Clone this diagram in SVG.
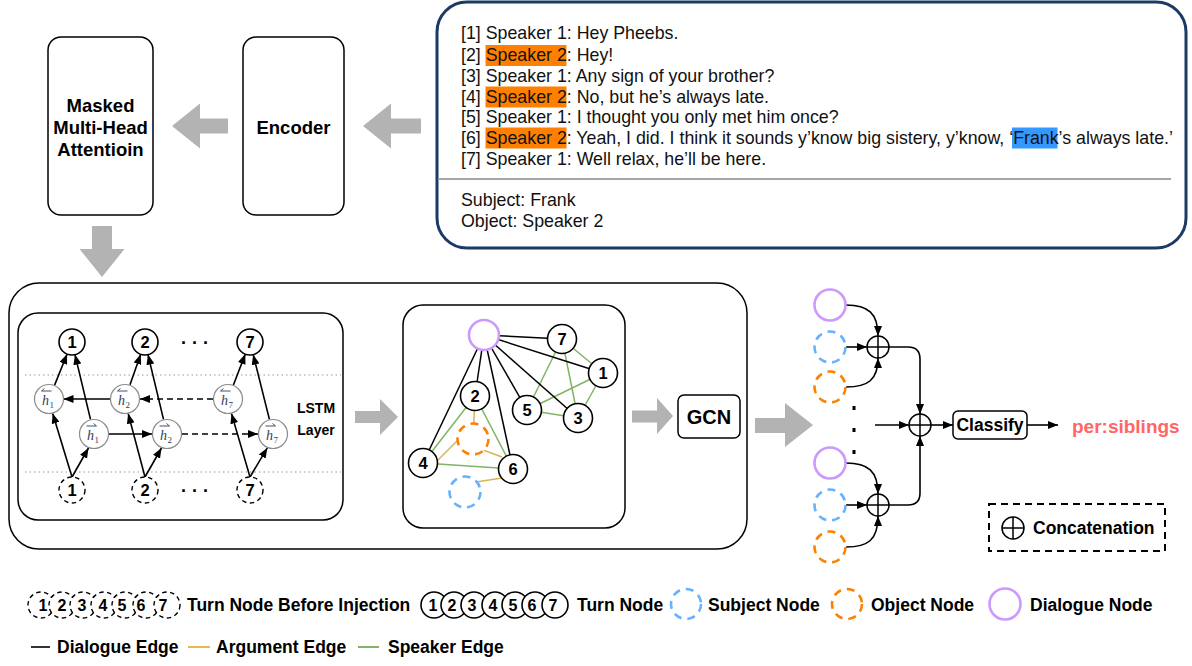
<svg xmlns="http://www.w3.org/2000/svg" width="1192" height="666" viewBox="0 0 1192 666">
<defs>
<style>
text{font-family:"Liberation Sans",Arial,sans-serif;fill:#000;}
.box{fill:#fff;stroke:#000;stroke-width:1.5;}
.garrow{fill:#b3b3b3;}
.bt{font-weight:bold;font-size:18.5px;text-anchor:middle;}
.dlg{font-size:17.8px;fill:#111;}
.tn{fill:#fff;stroke:#000;stroke-width:1.6;}
.tnd{fill:#fff;stroke:#000;stroke-width:1.4;stroke-dasharray:4.5 3.5;}
.num{font-weight:bold;font-size:16.5px;text-anchor:middle;}
.lnum{font-weight:bold;font-size:16px;text-anchor:middle;}
.hc{fill:#fff;stroke:#8c8c8c;stroke-width:1.2;}
.hv{font-family:"Liberation Serif",serif;font-style:italic;font-size:14px;fill:#2f3d5c;}
.hs{font-family:"Liberation Serif",serif;font-size:9px;fill:#2f3d5c;}
.ha{stroke:#2f3d5c;stroke-width:0.9;fill:none;}
.ar{stroke:#000;stroke-width:1.6;fill:none;marker-end:url(#ah);}
.ard{stroke:#000;stroke-width:1.6;fill:none;stroke-dasharray:6 4;marker-end:url(#ah);}
.de{stroke:#000;stroke-width:1.5;}
.se{stroke:#82b366;stroke-width:1.5;}
.ae{stroke:#d6b656;stroke-width:1.5;}
.dn{fill:#fff;stroke:#cc99ff;stroke-width:2.6;}
.sn{fill:#fff;stroke:#66b2ff;stroke-width:2.6;stroke-dasharray:8 6;}
.on{fill:#fff;stroke:#ff8000;stroke-width:2.6;stroke-dasharray:8 6;}
.lg{font-weight:bold;font-size:17.5px;}
.dots{stroke:#999;stroke-width:1.2;stroke-dasharray:1.5 3;}
.cc{fill:#fff;stroke:#000;stroke-width:1.5;}
</style>
<marker id="ah" markerWidth="10" markerHeight="8" refX="10" refY="4" orient="auto" markerUnits="userSpaceOnUse">
<path d="M0,0 L10,4 L0,8 Z" fill="#000"/>
</marker>
</defs>

<rect width="1192" height="666" fill="#fff"/>

<!-- top nodes -->
<g id="n-masked">
<rect class="box" x="48" y="37" width="105" height="178" rx="13"/>
<text class="bt" x="100.5" y="112">Masked</text>
<text class="bt" x="100.5" y="134">Multi-Head</text>
<text class="bt" x="100.5" y="156">Attentioin</text>
</g>
<g id="n-encoder">
<rect class="box" x="243" y="37" width="101" height="178" rx="13"/>
<text class="bt" x="293.5" y="133.5">Encoder</text>
</g>
<g id="n-dialogue">
<rect x="437" y="2" width="749" height="246" rx="30" fill="#fff" stroke="#1b3a66" stroke-width="3"/>
<rect x="485.5" y="45" width="81" height="21" fill="#ff8000"/>
<rect x="485.5" y="86.5" width="81" height="21" fill="#ff8000"/>
<rect x="485.5" y="127.5" width="81" height="21" fill="#ff8000"/>
<rect x="1012" y="127.5" width="45.5" height="21" fill="#3399ff"/>
<text class="dlg" x="461" y="39">[1] Speaker 1: Hey Pheebs.</text>
<text class="dlg" x="461" y="61">[2] Speaker 2: Hey!</text>
<text class="dlg" x="461" y="82">[3] Speaker 1: Any sign of your brother?</text>
<text class="dlg" x="461" y="103">[4] Speaker 2: No, but he’s always late.</text>
<text class="dlg" x="461" y="123">[5] Speaker 1: I thought you only met him once?</text>
<text class="dlg" x="461" y="144">[6] Speaker 2: Yeah, I did. I think it sounds y’know big sistery, y’know, ‘Frank’s always late.’</text>
<text class="dlg" x="461" y="165">[7] Speaker 1: Well relax, he’ll be here.</text>
<line x1="438" y1="179" x2="1171" y2="179" stroke="#a6a6a6" stroke-width="1.8"/>
<text class="dlg" x="461" y="206">Subject: Frank</text>
<text class="dlg" x="461" y="227">Object: Speaker 2</text>
</g>

<!-- containers -->
<g id="n-container">
<rect class="box" x="9" y="283" width="738" height="266" rx="30"/>
</g>
<g id="n-lstm">
<rect class="box" x="18" y="313" width="325" height="207" rx="20"/>
<line class="dots" x1="25" y1="375" x2="341" y2="375"/>
<line class="dots" x1="25" y1="472" x2="341" y2="472"/>
<text x="316" y="413" font-weight="bold" font-size="14" text-anchor="middle">LSTM</text>
<text x="316" y="435" font-weight="bold" font-size="14" text-anchor="middle">Layer</text>
</g>
<g id="n-graph">
<rect class="box" x="403" y="305" width="222" height="223" rx="20"/>
</g>

<!-- connectors -->
<g id="connectors">
<path class="garrow" d="M228,118.5 L200,118.5 L200,103.5 L172,126 L200,148.5 L200,133.5 L228,133.5 Z"/>
<path class="garrow" d="M421,118.5 L391,118.5 L391,103.5 L363,126 L391,148.5 L391,133.5 L421,133.5 Z"/>
<path class="garrow" d="M92,226 L112,226 L112,249 L124.5,249 L102,277 L79.5,249 L92,249 Z"/>
<path class="garrow" d="M355,411 L380,411 L380,399 L398,417 L380,435 L380,423 L355,423 Z"/>
<path class="garrow" d="M632,410.5 L657,410.5 L657,398 L673,416 L657,434 L657,422.5 L632,422.5 Z"/>
<path class="garrow" d="M755,418 L785,418 L785,403 L813,425 L785,447 L785,433 L755,433 Z"/>

<path class="ar" d="M72,477 L52.7,413.5"/>
<path class="ar" d="M72,477 L88.5,448"/>
<path class="ar" d="M54.6,385.1 L67.1,354"/>
<path class="ar" d="M90.5,419.4 L75,354.6"/>
<path class="ar" d="M145,477 L128.2,413.6"/>
<path class="ar" d="M145,477 L161.5,448"/>
<path class="ar" d="M130,384.8 L140.7,354.3"/>
<path class="ar" d="M163.5,419.4 L148,354.6"/>
<path class="ar" d="M250,477 L231.5,413.6"/>
<path class="ar" d="M250,477 L267.3,447.9"/>
<path class="ar" d="M233.4,385 L245.3,354.1"/>
<path class="ar" d="M269.4,419.4 L253.2,354.6"/>
<path class="ar" d="M110,399 L63.5,399"/>
<path class="ard" d="M213,399 L140,399"/>
<path class="ar" d="M109,434 L152,434"/>
<path class="ard" d="M182,434 L258,434"/>

<line class="se" x1="562" y1="339" x2="603" y2="373"/>
<line class="se" x1="562" y1="339" x2="527" y2="410"/>
<line class="se" x1="562" y1="339" x2="578" y2="418"/>
<line class="se" x1="603" y1="373" x2="527" y2="410"/>
<line class="se" x1="603" y1="373" x2="578" y2="418"/>
<line class="se" x1="527" y1="410" x2="578" y2="418"/>
<line class="se" x1="475" y1="396" x2="423" y2="463"/>
<line class="se" x1="475" y1="396" x2="513" y2="469"/>
<line class="se" x1="423" y1="463" x2="513" y2="469"/>
<line class="de" x1="484" y1="335" x2="562" y2="339"/>
<line class="de" x1="484" y1="335" x2="603" y2="373"/>
<line class="de" x1="484" y1="335" x2="578" y2="418"/>
<line class="de" x1="484" y1="335" x2="527" y2="410"/>
<line class="de" x1="484" y1="335" x2="475" y2="396"/>
<line class="de" x1="484" y1="335" x2="513" y2="469"/>
<line class="de" x1="484" y1="335" x2="423" y2="463"/>
<line class="ae" x1="475" y1="396" x2="473" y2="439"/>
<line class="ae" x1="458" y1="440" x2="437" y2="461"/>
<line class="ae" x1="483" y1="450" x2="502" y2="457"/>
<line class="ae" x1="476" y1="482" x2="502" y2="478"/>

<path class="ar" d="M846,305 C868,305 878,313 878,336"/>
<path class="ar" d="M846,347 L867,347"/>
<path class="ar" d="M846,387 C868,387 878,380 878,358"/>
<path class="ar" d="M889,347 L908,347 Q920,347 920,359 L920,414"/>
<path class="ar" d="M846,463 C868,463 878,471 878,494"/>
<path class="ar" d="M846,505 L867,505"/>
<path class="ar" d="M846,547 C868,547 878,540 878,516"/>
<path class="ar" d="M889,505 L908,505 Q920,505 920,493 L920,436"/>
<path class="ar" d="M875,425 L909,425"/>
<path class="ar" d="M931,425 L953,425"/>
<path class="ar" d="M1027,425 L1058,425"/>
</g>

<g id="lstm-turns">
<circle class="tn" cx="72" cy="342" r="13"/><text class="num" x="72" y="348">1</text>
<circle class="tn" cx="145" cy="342" r="13"/><text class="num" x="145" y="348">2</text>
<circle class="tn" cx="250" cy="342" r="13"/><text class="num" x="250" y="348">7</text>
<text x="195" y="349" font-weight="bold" font-size="18" text-anchor="middle">· · ·</text>
<circle class="tnd" cx="72" cy="490" r="13"/><text class="num" x="72" y="496">1</text>
<circle class="tnd" cx="145" cy="490" r="13"/><text class="num" x="145" y="496">2</text>
<circle class="tnd" cx="250" cy="490" r="13"/><text class="num" x="250" y="496">7</text>
<text x="195" y="497" font-weight="bold" font-size="18" text-anchor="middle">· · ·</text>
</g>
<g id="lstm-hidden">
<g><circle class="hc" cx="49" cy="399" r="14.5"/><text class="hv" x="42" y="405">h</text><text class="hs" x="49.5" y="407.5">1</text><path class="ha" d="M41.5,391 H51.5 M41.5,391 l3,-2.5"/></g>
<g><circle class="hc" cx="125" cy="399" r="14.5"/><text class="hv" x="118" y="405">h</text><text class="hs" x="125.5" y="407.5">2</text><path class="ha" d="M117.5,391 H127.5 M117.5,391 l3,-2.5"/></g>
<g><circle class="hc" cx="228" cy="399" r="14.5"/><text class="hv" x="221" y="405">h</text><text class="hs" x="228.5" y="407.5">7</text><path class="ha" d="M220.5,391 H230.5 M220.5,391 l3,-2.5"/></g>
<g><circle class="hc" cx="94" cy="434" r="14.5"/><text class="hv" x="87" y="440">h</text><text class="hs" x="94.5" y="442.5">1</text><path class="ha" d="M86.5,426 H96.5 M96.5,426 l-3,-2.5"/></g>
<g><circle class="hc" cx="167" cy="434" r="14.5"/><text class="hv" x="160" y="440">h</text><text class="hs" x="167.5" y="442.5">2</text><path class="ha" d="M159.5,426 H169.5 M169.5,426 l-3,-2.5"/></g>
<g><circle class="hc" cx="273" cy="434" r="14.5"/><text class="hv" x="266" y="440">h</text><text class="hs" x="273.5" y="442.5">7</text><path class="ha" d="M265.5,426 H275.5 M275.5,426 l-3,-2.5"/></g>
</g>

<g id="graph-nodes">
<circle class="dn" cx="484" cy="335" r="15"/>
<circle class="tn" cx="562" cy="339" r="14.5"/><text class="num" x="562" y="345">7</text>
<circle class="tn" cx="603" cy="373" r="14.5"/><text class="num" x="603" y="379">1</text>
<circle class="tn" cx="475" cy="396" r="14.5"/><text class="num" x="475" y="402">2</text>
<circle class="tn" cx="527" cy="410" r="14.5"/><text class="num" x="527" y="416">5</text>
<circle class="tn" cx="578" cy="418" r="14.5"/><text class="num" x="578" y="424">3</text>
<circle class="tn" cx="423" cy="463" r="14.5"/><text class="num" x="423" y="469">4</text>
<circle class="tn" cx="513" cy="469" r="14.5"/><text class="num" x="513" y="475">6</text>
<circle class="on" cx="473" cy="439" r="15.5"/>
<circle class="sn" cx="465" cy="492" r="15.5"/>
</g>

<g id="n-gcn">
<rect class="box" x="678" y="395" width="62" height="43" rx="6"/>
<text x="709" y="424" font-weight="bold" font-size="20" text-anchor="middle">GCN</text>
</g>

<g id="rep-top">
<circle class="dn" cx="830" cy="305" r="15.5"/>
<circle class="sn" cx="830" cy="347" r="15.5"/>
<circle class="on" cx="830" cy="387" r="15.5"/>
</g>
<g id="rep-bottom">
<circle class="dn" cx="830" cy="463" r="15.5"/>
<circle class="sn" cx="830" cy="505" r="15.5"/>
<circle class="on" cx="830" cy="547" r="15.5"/>
</g>
<g id="vdots">
<rect x="852.5" y="406" width="3" height="4" fill="#000"/>
<rect x="852.5" y="428" width="3" height="4" fill="#000"/>
<rect x="852.5" y="450" width="3" height="4" fill="#000"/>
</g>
<g id="concat-1"><circle class="cc" cx="878" cy="347" r="11"/><path d="M867,347 H889 M878,336 V358" stroke="#000" stroke-width="1.5"/></g>
<g id="concat-2"><circle class="cc" cx="878" cy="505" r="11"/><path d="M867,505 H889 M878,494 V516" stroke="#000" stroke-width="1.5"/></g>
<g id="concat-3"><circle class="cc" cx="920" cy="425" r="11"/><path d="M909,425 H931 M920,414 V436" stroke="#000" stroke-width="1.5"/></g>
<g id="n-classify">
<rect class="box" x="953" y="411" width="74" height="28" rx="5"/>
<text x="990" y="431" font-weight="bold" font-size="17.5" text-anchor="middle">Classify</text>
</g>
<g id="n-result">
<text x="1072" y="433" font-weight="bold" font-size="19" style="fill:#ff6666">per:siblings</text>
</g>
<g id="legend-concat">
<rect x="989" y="504" width="176" height="47" fill="none" stroke="#000" stroke-width="2" stroke-dasharray="7 5"/>
<circle class="cc" cx="1013" cy="528" r="11"/><path d="M1002,528 H1024 M1013,517 V539" stroke="#000" stroke-width="1.5"/>
<text class="lg" x="1033" y="534">Concatenation</text>
</g>

<g id="legend">
<circle class="tnd" cx="41" cy="605" r="13"/>
<circle class="tnd" cx="62" cy="605" r="13"/>
<circle class="tnd" cx="83" cy="605" r="13"/>
<circle class="tnd" cx="104" cy="605" r="13"/>
<circle class="tnd" cx="125" cy="605" r="13"/>
<circle class="tnd" cx="146" cy="605" r="13"/>
<circle class="tnd" cx="167" cy="605" r="13"/>
<text class="lnum" x="43" y="611">1</text>
<text class="lnum" x="62" y="611">2</text>
<text class="lnum" x="82" y="611">3</text>
<text class="lnum" x="103" y="611">4</text>
<text class="lnum" x="122" y="611">5</text>
<text class="lnum" x="141" y="611">6</text>
<text class="lnum" x="163" y="611">7</text>
<text class="lg" x="187" y="611">Turn Node Before Injection</text>
<circle class="tn" cx="434" cy="605" r="13"/><text class="lnum" x="433" y="611">1</text>
<circle class="tn" cx="454" cy="605" r="13"/><text class="lnum" x="452" y="611">2</text>
<circle class="tn" cx="474" cy="605" r="13"/><text class="lnum" x="472" y="611">3</text>
<circle class="tn" cx="495" cy="605" r="13"/><text class="lnum" x="493" y="611">4</text>
<circle class="tn" cx="515" cy="605" r="13"/><text class="lnum" x="513" y="611">5</text>
<circle class="tn" cx="535" cy="605" r="13"/><text class="lnum" x="532" y="611">6</text>
<circle class="tn" cx="555" cy="605" r="13"/><text class="lnum" x="553" y="611">7</text>
<text class="lg" x="577" y="611">Turn Node</text>
<circle class="sn" cx="686" cy="604" r="15"/>
<text class="lg" x="708" y="611">Subject Node</text>
<circle class="on" cx="847" cy="604" r="15"/>
<text class="lg" x="871" y="611">Object Node</text>
<circle class="dn" cx="1005" cy="604" r="15.5"/>
<text class="lg" x="1030" y="611">Dialogue Node</text>
<line x1="31" y1="647" x2="50" y2="647" stroke="#333" stroke-width="2"/>
<text class="lg" x="57" y="653">Dialogue Edge</text>
<line x1="188" y1="647" x2="210" y2="647" stroke="#e6b84d" stroke-width="2"/>
<text class="lg" x="216" y="653">Argument Edge</text>
<line x1="358" y1="647" x2="379" y2="647" stroke="#82b366" stroke-width="2"/>
<text class="lg" x="388" y="653">Speaker Edge</text>
</g>
</svg>
